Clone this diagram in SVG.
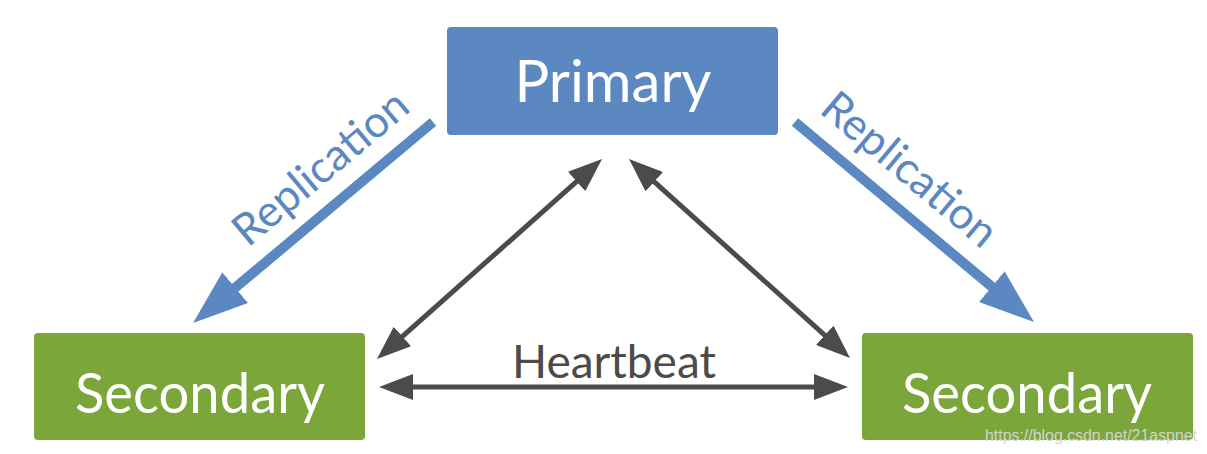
<svg xmlns="http://www.w3.org/2000/svg" width="1207" height="454" viewBox="0 0 1207 454">
<defs>
<style>
.box-p{fill:#5b88c1}
.box-s{fill:#7ba63a}
.lbl{font-family:Lato,"Open Sans","Liberation Sans",sans-serif;fill:#ffffff;text-anchor:middle}
.rep{font-family:Lato,"Open Sans","Liberation Sans",sans-serif;fill:#5b88c1;font-size:44px}
.hb{font-family:Lato,"Open Sans","Liberation Sans",sans-serif;fill:#4d4b49;font-size:46px;text-anchor:middle}
.blue{stroke:#5b88c1;stroke-width:10;fill:none}
.dark{stroke:#4d4b49;stroke-width:5;fill:none}
.wm{font-family:"Liberation Sans",Arial,sans-serif;font-size:16px;fill:#d4d4d4}
</style>
<marker id="bh" markerUnits="userSpaceOnUse" viewBox="0 0 55 40" markerWidth="55" markerHeight="40" refX="5" refY="20" orient="auto">
<path d="M0,0 L55,20 L0,40 z" fill="#5b88c1"/>
</marker>
<marker id="dh" markerUnits="userSpaceOnUse" viewBox="0 0 34 26" markerWidth="34" markerHeight="26" refX="4" refY="13" orient="auto-start-reverse">
<path d="M0,0 L34,13 L0,26 z" fill="#4d4b49"/>
</marker>
</defs>
<rect width="1207" height="454" fill="#ffffff"/>
<g id="connectors">
<line class="blue" x1="433" y1="122" x2="231.4" y2="290.9" marker-end="url(#bh)"/>
<line class="blue" x1="795" y1="122" x2="995.6" y2="289.9" marker-end="url(#bh)"/>
<line class="dark" x1="399.4" y1="339.1" x2="579.6" y2="178.9" marker-start="url(#dh)" marker-end="url(#dh)"/>
<line class="dark" x1="651.3" y1="179.1" x2="827.7" y2="337.9" marker-start="url(#dh)" marker-end="url(#dh)"/>
<line class="dark" x1="409" y1="387" x2="818" y2="387" marker-start="url(#dh)" marker-end="url(#dh)"/>
<text class="rep" transform="translate(248,248) rotate(-40)">Replication</text>
<text class="rep" transform="translate(818,112) rotate(40)">Replication</text>
<text class="hb" x="614" y="378">Heartbeat</text>
</g>
<g id="primary">
<rect class="box-p" x="447" y="27" width="331" height="108" rx="4"/>
<text class="lbl" x="613" y="102" font-size="58">Primary</text>
</g>
<g id="secondary-left">
<rect class="box-s" x="34" y="333" width="331" height="107" rx="4"/>
<text class="lbl" x="200" y="413" font-size="56" textLength="250" lengthAdjust="spacingAndGlyphs">Secondary</text>
</g>
<g id="secondary-right">
<rect class="box-s" x="862" y="333" width="331" height="107" rx="4"/>
<text class="lbl" x="1027" y="413" font-size="56" textLength="250" lengthAdjust="spacingAndGlyphs">Secondary</text>
</g>
<text class="wm" x="985" y="441" textLength="212" lengthAdjust="spacingAndGlyphs">https://blog.csdn.net/21aspnet</text>
</svg>
